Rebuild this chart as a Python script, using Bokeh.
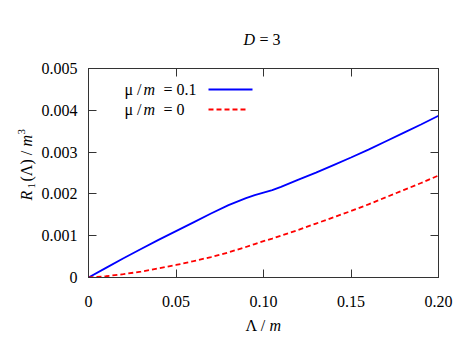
import math
from bokeh.plotting import figure
from bokeh.layouts import column, row
from bokeh.models import Range1d, LinearAxis, FixedTicker, Label, Arrow, ColumnDataSource
from bokeh.embed import file_html
from bokeh.resources import INLINE

# Data (R1 values in units of 1e-3 m^3)
lam = [0.00, 0.01, 0.02, 0.03, 0.04, 0.05, 0.06, 0.07, 0.08, 0.09, 0.095,
       0.10, 0.105, 0.11, 0.12, 0.13, 0.14, 0.15, 0.16, 0.17, 0.18, 0.19, 0.20]
r_mu01 = [0.0, 0.23, 0.46, 0.68, 0.90, 1.11, 1.32, 1.53, 1.73, 1.90, 1.97,
          2.03, 2.09, 2.17, 2.34, 2.51, 2.69, 2.87, 3.06, 3.26, 3.46, 3.66, 3.87]
r_mu0 = [0.0, 0.03, 0.08, 0.14, 0.22, 0.30, 0.39, 0.49, 0.60, 0.73, 0.80,
         0.87, 0.93, 1.00, 1.14, 1.29, 1.44, 1.59, 1.75, 1.92, 2.09, 2.26, 2.44]

x_ticks = [0, 0.05, 0.10, 0.15, 0.20]
x_tick_labels = ["0", "0.05", "0.10", "0.15", "0.20"]
y_ticks = [0, 0.001, 0.002, 0.003, 0.004, 0.005]
y_tick_labels = ["0", "0.001", "0.002", "0.003", "0.004", "0.005"]

src = ColumnDataSource(dict(x=lam, y1=[v * 1e-3 for v in r_mu01], y0=[v * 1e-3 for v in r_mu0]))

FONT = "Liberation Serif"
AX = "#333333"

# main plot: page rows y 55..317, x 38..455
p = figure(width=417, height=262, output_backend="svg", toolbar_location=None,
           x_range=Range1d(0, 0.2), y_range=Range1d(0, 0.005),
           min_border_left=50, min_border_right=17, min_border_top=13, min_border_bottom=40,
           x_axis_location=None, y_axis_location=None)
p.grid.visible = False
p.outline_line_color = AX


def make_axis(ticks, labels, show):
    ax = LinearAxis(ticker=FixedTicker(ticks=ticks))
    ax.major_label_overrides = {t: l for t, l in zip(ticks, labels)}
    ax.axis_line_color = AX
    ax.major_tick_line_color = AX
    ax.major_tick_in = 8
    ax.major_tick_out = 0
    ax.minor_tick_line_color = None
    ax.major_label_text_font = FONT
    ax.major_label_text_font_size = "16px"
    ax.major_label_text_color = "black"
    if not show:
        ax.major_label_text_alpha = 0
        ax.major_label_text_font_size = "1px"
        ax.major_label_standoff = 0
    return ax

xb = make_axis(x_ticks, x_tick_labels, True)
xb.major_label_standoff = 18
yl = make_axis(y_ticks, y_tick_labels, True)
yl.major_label_standoff = 11
p.add_layout(xb, "below")
p.add_layout(yl, "left")
p.add_layout(make_axis(x_ticks, x_tick_labels, False), "above")
p.add_layout(make_axis(y_ticks, y_tick_labels, False), "right")

p.line("x", "y1", source=src, line_color="#0000ff", line_width=1.8)
p.line("x", "y0", source=src, line_color="#ff0000", line_width=1.8, line_dash="5 3")


def lab(fig, text, sx, sy, italic=False, size="16px", angle=0.0):
    fig.add_layout(Label(x=sx, y=sy, x_units="screen", y_units="screen", text=text,
                         text_font=FONT, text_font_size=size,
                         text_font_style="italic" if italic else "normal",
                         text_align="left", text_baseline="middle", angle=angle,
                         text_color="black"))

# legend (frame-relative)
for sy, val in ((188, "= 0.1"), (168, "= 0")):
    lab(p, "\u03bc /", 36, sy)
    lab(p, "m", 55, sy, italic=True)
    lab(p, val, 75, sy)
p.add_layout(Arrow(end=None, x_start=120, y_start=188, x_end=164, y_end=188,
                   start_units="screen", end_units="screen", line_color="#0000ff", line_width=1.8))
p.add_layout(Arrow(end=None, x_start=120, y_start=168, x_end=160, y_end=168,
                   start_units="screen", end_units="screen", line_color="#ff0000",
                   line_width=1.8, line_dash="5 3"))


def blank(w, h):
    f = figure(width=w, height=h, output_backend="svg", toolbar_location=None,
               x_range=Range1d(0, 1), y_range=Range1d(0, 1), min_border=0,
               x_axis_location=None, y_axis_location=None)
    f.grid.visible = False
    f.outline_line_color = None
    return f

# title
tf = blank(455, 55)
lab(tf, "D", 243, 16, italic=True)
lab(tf, "= 3", 259, 16)

# y label (its frame lines up with the main frame, bottom at page y 277)
yf = blank(38, 262)
A = math.pi / 2
lab(yf, "R", 26, 77, italic=True, angle=A)
lab(yf, "1", 31, 89, size="11px", angle=A)
lab(yf, "(\u039b) /", 26, 96, angle=A)
lab(yf, "m", 26, 131, italic=True, angle=A)
lab(yf, "3", 21, 143, size="11px", angle=A)

# x label
xf = blank(455, 23)
lab(xf, "\u039b /", 245, 15)
lab(xf, "m", 269, 15, italic=True)

layout = column(tf, row(yf, p), xf)
open("out.html", "w").write(file_html(layout, INLINE))
